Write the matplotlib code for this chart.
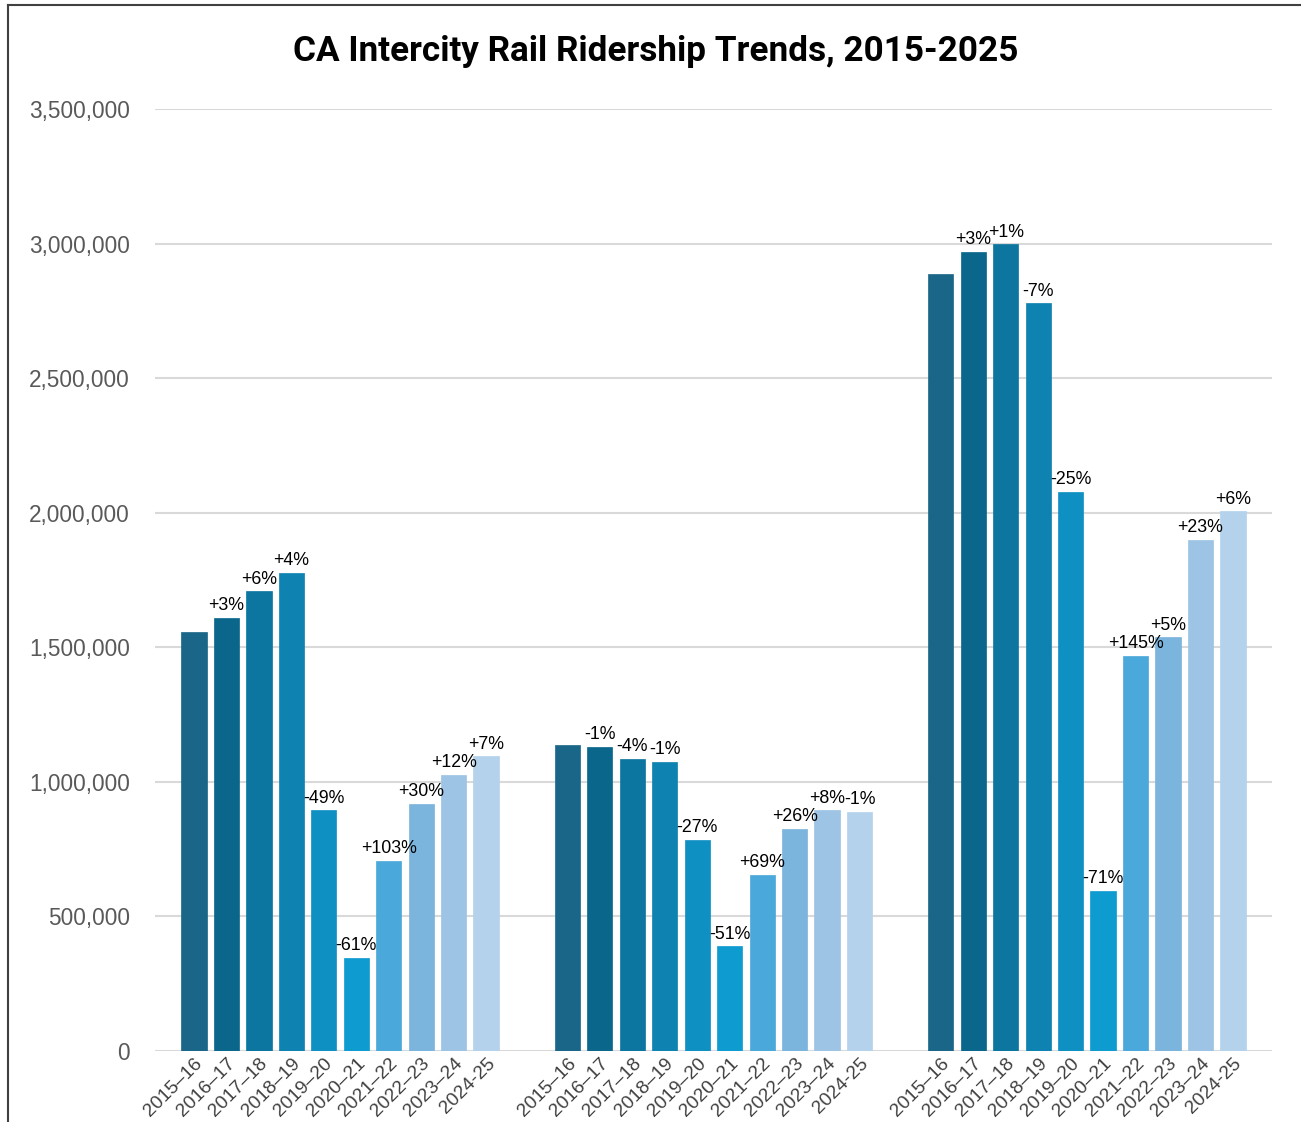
import matplotlib
matplotlib.use("Agg")
import matplotlib.pyplot as plt
from matplotlib.lines import Line2D
from matplotlib.ticker import FuncFormatter

years = ["2015–16", "2016–17", "2017–18", "2018–19", "2019–20",
         "2020–21", "2021–22", "2022–23", "2023–24", "2024-25"]

group1 = [1557000, 1609000, 1709000, 1776000, 895000,
          346000, 706000, 918000, 1026000, 1096000]
group2 = [1137000, 1130000, 1085000, 1074000, 784000,
          390000, 654000, 825000, 895000, 888000]
group3 = [2887000, 2969000, 2998000, 2779000, 2077000,
          595000, 1468000, 1538000, 1899000, 2006000]

pct1 = ["", "+3%", "+6%", "+4%", "-49%", "-61%", "+103%", "+30%", "+12%", "+7%"]
pct2 = ["", "-1%", "-4%", "-1%", "-27%", "-51%", "+69%", "+26%", "+8%", "-1%"]
pct3 = ["", "+3%", "+1%", "-7%", "-25%", "-71%", "+145%", "+5%", "+23%", "+6%"]

colors = ["#1A6688", "#0B668C", "#0C76A0", "#0E82B0", "#0E90C2",
          "#0E9BD0", "#4AA8DA", "#7BB5DD", "#9DC4E4", "#B4D2EB"]

title = "CA Intercity Rail Ridership Trends, 2015-2025"

plt.rcParams['font.family'] = ['Liberation Sans', 'DejaVu Sans']

fig = plt.figure(figsize=(13.01, 11.22), dpi=100)
ax = fig.add_axes([0.1191, 0.0633, 0.8586, 0.8396])

gap = 11.5
positions, labels = [], []
for g, (vals, pcts) in enumerate([(group1, pct1), (group2, pct2), (group3, pct3)]):
    xs = [i + g * gap for i in range(len(vals))]
    ax.bar(xs, vals, width=0.78, color=colors, zorder=3,
           edgecolor=[c for c in colors], linewidth=0.5)
    for x, v, p in zip(xs, vals, pcts):
        if p:
            ax.annotate(p, (x, v), xytext=(0, 2.5), textcoords="offset points",
                        ha="center", va="bottom", fontsize=12.8, color="black")
    positions += xs
    labels += years

ax.set_xticks(positions)
ax.set_xticklabels(labels, rotation=45, ha="right", rotation_mode="anchor",
                   fontsize=13.8, color="#404040")
ax.tick_params(axis="x", length=0, pad=3)
ax.tick_params(axis="y", length=0, pad=18, labelsize=16.3, labelcolor="#595959")

ax.set_ylim(0, 3500000)
ax.set_yticks(range(0, 3500001, 500000))
ax.yaxis.set_major_formatter(FuncFormatter(lambda v, p: f"{int(v):,}"))
ax.set_xlim(-1.2, 33.2)
ax.grid(axis="y", color="#D9D9D9", linewidth=1.5, zorder=0)
for s in ax.spines.values():
    s.set_visible(False)

fig.text(0.504, 0.954, title, ha="center", va="center", fontsize=25.3,
         fontweight="bold", family=["Roboto", "DejaVu Sans"])

fig.add_artist(Line2D([8/1301, 8/1301], [0, 1 - 5/1122], transform=fig.transFigure,
                      color="#404040", linewidth=1.5))
fig.add_artist(Line2D([8/1301, 1], [1 - 5/1122, 1 - 5/1122], transform=fig.transFigure,
                      color="#404040", linewidth=1.5))

fig.savefig("out.png", dpi=100, facecolor="white")
